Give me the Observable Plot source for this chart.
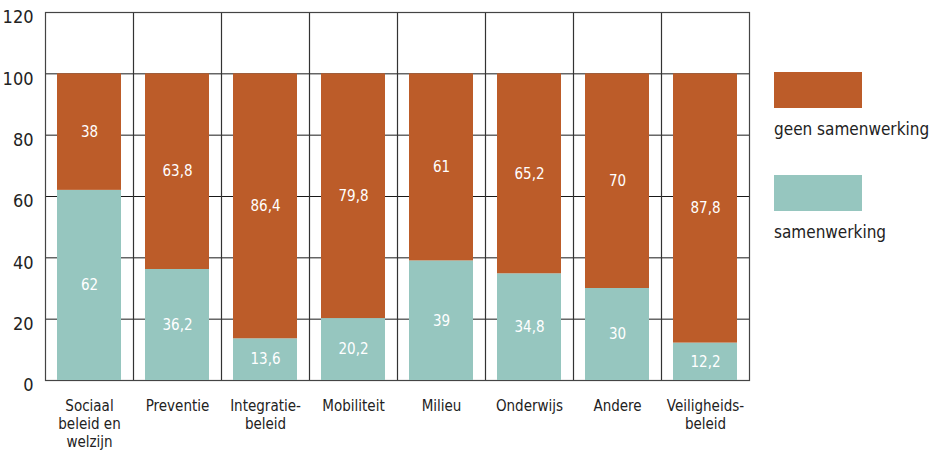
<!DOCTYPE html>
<html><head><meta charset="utf-8">
<script src="https://cdn.jsdelivr.net/npm/d3@7"></script>
<script src="https://cdn.jsdelivr.net/npm/@observablehq/plot@0.6"></script>
<style>
body{margin:0;background:#fff;font-family:"Liberation Sans Narrow","DejaVu Sans Condensed",sans-serif;font-stretch:condensed;}
#wrap{position:relative;width:932px;height:450px;}
.lg{position:absolute;font-size:17px;color:#222;white-space:nowrap;}
.sw{position:absolute;width:88px;height:36px;}
</style></head><body>
<div id="wrap"></div>
<script>
const categories = ["Sociaal\nbeleid en\nwelzijn","Preventie","Integratie-\nbeleid","Mobiliteit","Milieu","Onderwijs","Andere","Veiligheids-\nbeleid"];
const samenwerking = [62, 36.2, 13.6, 20.2, 39, 34.8, 30, 12.2];
const geenSamenwerking = [38, 63.8, 86.4, 79.8, 61, 65.2, 70, 87.8];
const series = ["samenwerking","geen samenwerking"];
const colors = ["#96c6bf","#bc5c29"];
const yTicks = [0,20,40,60,80,100,120];

const data = [];
categories.forEach((c,i)=>{
  data.push({cat:c, series:series[0], value:samenwerking[i]});
  data.push({cat:c, series:series[1], value:geenSamenwerking[i]});
});
const fmt = v => String(v).replace(".", ",");

const chart = Plot.plot({
  width: 932, height: 450,
  marginLeft: 45, marginTop: 12, marginRight: 183, marginBottom: 70,
  style: {fontFamily: '"Liberation Sans Narrow","DejaVu Sans Condensed",sans-serif', fontSize: "15px", color:"#222", fontStretch:"condensed"},
  x: {domain: categories, paddingInner: 0.27, paddingOuter: 0.135, label: null},
  y: {domain: [0,120], label: null},
  color: {domain: series, range: colors},
  marks: [
    Plot.gridY(yTicks, {stroke:"#000", strokeOpacity:0.9, strokeWidth:1}),
    Plot.ruleX(categories.slice(0,-1), {x: d=>d, dx: 44, stroke:"#333", strokeWidth:1.2}),
    Plot.frame({stroke:"#444", strokeWidth:1.2}),
    Plot.barY(data, Plot.stackY({x:"cat", y:"value", fill:"series", order: series})),
    Plot.text(data, Plot.stackY({x:"cat", y:"value", z:"series", order: series, text: d=>fmt(d.value), fill:"white", fontSize:15})),
    Plot.axisY({ticks: yTicks, tickSize: 0, tickPadding: 12, fontSize: 18, dy: 5, label:null}),
    Plot.axisX({tickSize: 0, tickPadding: 18, fontSize: 15, lineHeight: 1.2, label:null})
  ]
});
const wrap = document.getElementById("wrap");
wrap.appendChild(chart);
const leg = [
  {label:"geen samenwerking", color:colors[1], top:72, textTop:119},
  {label:"samenwerking", color:colors[0], top:175, textTop:222}
];
leg.forEach(l=>{
  const s=document.createElement("div"); s.className="sw"; s.style.left="774px"; s.style.top=l.top+"px"; s.style.background=l.color; wrap.appendChild(s);
  const t=document.createElement("div"); t.className="lg"; t.style.left="774px"; t.style.top=l.textTop+"px"; t.textContent=l.label; wrap.appendChild(t);
});
</script>
</body></html>
